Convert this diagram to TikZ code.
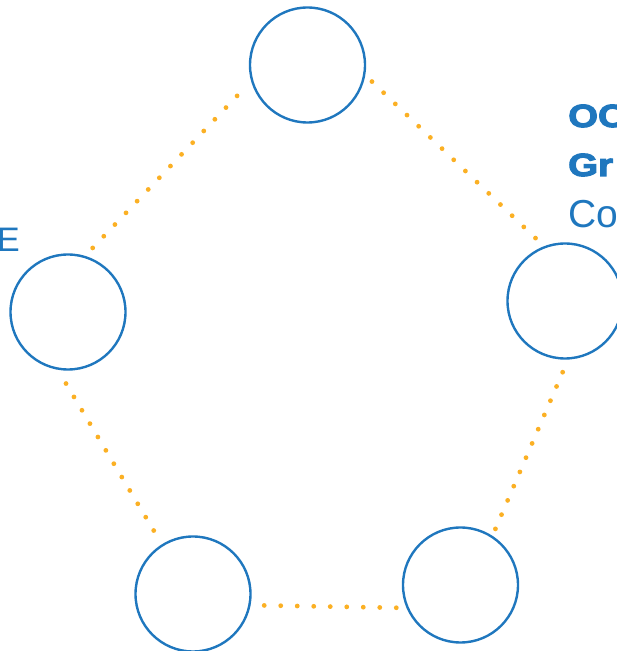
\documentclass[tikz,border=0pt]{standalone}
\usepackage{fontspec}
\setmainfont{Liberation Sans}
\newfontfamily\heavyfont{Liberation Sans Bold}[FakeBold=3.5,FakeStretch=1.2]
\usepackage{tikz}
\definecolor{ringblue}{RGB}{31,119,190}
\definecolor{dotorange}{RGB}{251,176,36}
\tikzset{
	ring/.style={circle,draw=ringblue,line width=2.4pt,minimum size=115pt,inner sep=0pt},
	dotline/.style={draw=dotorange,line width=4.8pt,line cap=round,dash pattern=on 0pt off #1},
	label text/.style={text=ringblue,inner sep=0pt}
}
\begin{document}
\begin{tikzpicture}[x=1pt,y=1pt]
			\useasboundingbox (0,0) rectangle (617,651);
			\node[ring] (top) at (307.5,586) {};
			\node[ring] (right) at (565,350) {};
			\node[ring] (left) at (68,339) {};
			\node[ring] (botl) at (193,57) {};
			\node[ring] (botr) at (460.5,66) {};
			\path
			(top.196) edge[dotline=16.13pt,shorten <=20.3pt,shorten >=10.7pt] (left.73)
			(top.350) edge[dotline=16.17pt,shorten <=9.2pt,shorten >=10.9pt] (right.111)
			(right.273) edge[dotline=15.5pt,shorten <=13.7pt,shorten >=7.4pt] (botr.57)
			(botl.349) edge[dotline=16.51pt,shorten <=13.6pt,shorten >=10.1pt] (botr.203)
			(left.260) edge[dotline=15.56pt,shorten <=16pt,shorten >=15.7pt] (botl.122)
			;
			\node[label text,anchor=base east,font=\fontsize{34}{40}\selectfont] (e) at (20,399) {E};
			\node[label text,anchor=base west,font=\heavyfont\fontsize{32}{38}\selectfont] (oc) at (568,524) {OC};
			\node[label text,anchor=base west,font=\heavyfont\fontsize{32}{38}\selectfont] (gr) at (568,475) {Gr};
			\node[label text,anchor=base west,font=\fontsize{39}{45}\selectfont] (co) at (568,423) {Co};
		\end{tikzpicture}
\end{document}
